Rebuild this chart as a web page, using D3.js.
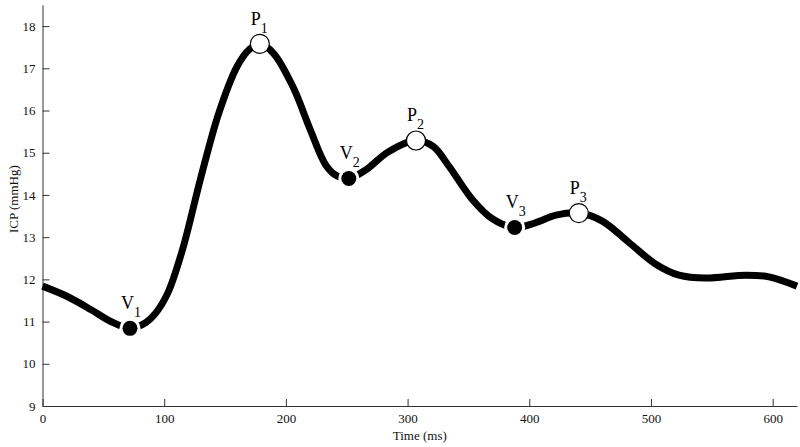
<!DOCTYPE html>
<html>
<head>
<meta charset="utf-8">
<script src="https://cdn.jsdelivr.net/npm/d3@7"></script>
<style>
  html, body { margin: 0; padding: 0; background: #fff; }
  svg { display: block; }
  svg text { font-family: "Liberation Serif", serif; }
</style>
</head>
<body>
<svg id="chart" width="800" height="447"></svg>
<script>
// ---- data ----
const timeMs = [0, 20, 40, 55, 72, 85, 93, 103, 115, 130, 145, 160, 170, 178.6, 190, 206, 220, 233, 242, 251.7, 266, 284, 306.9, 321, 334, 353, 370, 388, 405, 422, 440.7, 460, 482, 504, 523, 545, 578, 597, 620];
const icp    = [11.84, 11.6, 11.28, 11.02, 10.84, 10.98, 11.2, 11.68, 12.7, 14.4, 15.95, 17.05, 17.45, 17.58, 17.35, 16.55, 15.55, 14.7, 14.45, 14.39, 14.6, 15.02, 15.29, 15.15, 14.68, 13.9, 13.43, 13.23, 13.34, 13.52, 13.57, 13.38, 12.87, 12.36, 12.1, 12.03, 12.1, 12.06, 11.84];

const markerNames = ["V", "P", "V", "P", "V", "P"];
const markerSubs  = ["1", "1", "2", "2", "3", "3"];
const markerTime  = [71.9, 178.6, 251.7, 306.9, 388, 440.7];
const markerIcp   = [10.84, 17.58, 14.39, 15.29, 13.23, 13.57];
const markerKind  = ["valley", "peak", "valley", "peak", "valley", "peak"];

const xTicks = [0, 100, 200, 300, 400, 500, 600];
const yTicks = [9, 10, 11, 12, 13, 14, 15, 16, 17, 18];
const xLabel = "Time (ms)";
const yLabel = "ICP (mmHg)";

// ---- layout ----
const W = 800, H = 447;
const margin = { top: 5, right: 3, bottom: 41, left: 42.5 };
const svg = d3.select("#chart");
const serif = "'Liberation Serif', serif";

const x = d3.scaleLinear().domain([0, 620]).range([margin.left, W - margin.right]);
const y = d3.scaleLinear().domain([9, 18.5]).range([H - margin.bottom, margin.top]);

const axisColor = "#333";

// x axis
const gx = svg.append("g")
  .attr("transform", `translate(0,${H - margin.bottom})`)
  .call(d3.axisBottom(x).tickValues(xTicks).tickSize(-7).tickPadding(8).tickSizeOuter(0));
gx.attr("font-family", serif);
gx.select(".domain").attr("stroke", axisColor);
gx.selectAll(".tick line").attr("stroke", axisColor);
gx.selectAll(".tick text").attr("font-size", 13).attr("fill", "#111");

// y axis
const gy = svg.append("g")
  .attr("transform", `translate(${margin.left},0)`)
  .call(d3.axisLeft(y).tickValues(yTicks).tickSize(-7).tickPadding(7).tickSizeOuter(0));
gy.attr("font-family", serif);
gy.select(".domain").attr("stroke", axisColor);
gy.selectAll(".tick line").attr("stroke", axisColor);
gy.selectAll(".tick text").attr("font-size", 13).attr("fill", "#111");

// axis titles
svg.append("text")
  .attr("x", x(310)).attr("y", 440)
  .attr("text-anchor", "middle").attr("font-size", 13).attr("fill", "#111")
  .text(xLabel);
svg.append("text")
  .attr("transform", `translate(18,${y(13.9)}) rotate(-90)`)
  .attr("text-anchor", "middle").attr("font-size", 13).attr("fill", "#111")
  .text(yLabel);

// curve
const pts = timeMs.map((t, i) => [t, icp[i]]);
const line = d3.line().x(d => x(d[0])).y(d => y(d[1])).curve(d3.curveCatmullRom.alpha(0.5));
svg.append("path")
  .datum(pts)
  .attr("d", line)
  .attr("fill", "none")
  .attr("stroke", "#000")
  .attr("stroke-width", 7)
  .attr("stroke-linejoin", "round");

// markers
const marks = markerTime.map((t, i) => ({ t, v: markerIcp[i], kind: markerKind[i], name: markerNames[i], sub: markerSubs[i] }));
const mg = svg.append("g");
marks.forEach(m => {
  const cx = x(m.t), cy = y(m.v);
  if (m.kind === "valley") {
    mg.append("circle").attr("cx", cx).attr("cy", cy).attr("r", 10.5).attr("fill", "#fff");
    mg.append("circle").attr("cx", cx).attr("cy", cy).attr("r", 7.5).attr("fill", "#000");
  } else {
    mg.append("circle").attr("cx", cx).attr("cy", cy).attr("r", 9.5)
      .attr("fill", "#fff").attr("stroke", "#000").attr("stroke-width", 1.2);
  }
  const t = mg.append("text")
    .attr("x", cx - 9).attr("y", cy - 19)
    .attr("font-size", 18).attr("fill", "#000");
  t.append("tspan").text(m.name);
  t.append("tspan").attr("dy", 8).attr("font-size", 14).text(m.sub);
});
</script>
</body>
</html>
